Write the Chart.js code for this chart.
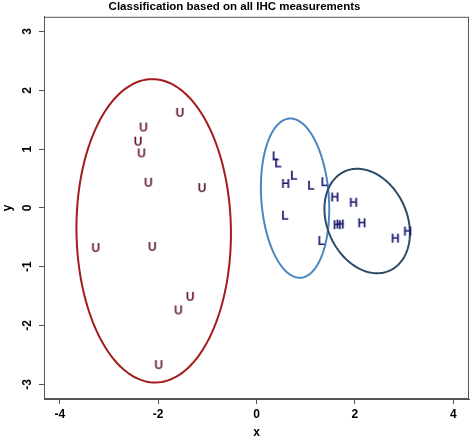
<!DOCTYPE html>
<html>
<head>
<meta charset="utf-8">
<script src="https://cdn.jsdelivr.net/npm/chart.js@4"></script>
<style>
  html, body { margin: 0; padding: 0; background: #fff; }
  #wrap { width: 472px; height: 440px; }
</style>
</head>
<body>
<div id="wrap"><canvas id="ihcChart" width="472" height="440"></canvas></div>
<script>
// group U
const uX = [-1.56, -2.30, -2.41, -2.34, -2.20, -1.11, -3.27, -2.12, -1.35, -1.59, -1.99];
const uY = [1.60, 1.35, 1.11, 0.91, 0.41, 0.32, -0.70, -0.68, -1.53, -1.76, -2.69];
// group L
const lX = [0.39, 0.44, 0.76, 1.11, 1.38, 0.58, 1.32];
const lY = [0.86, 0.74, 0.53, 0.36, 0.42, -0.15, -0.58];
// group H
const hX = [0.59, 1.59, 1.97, 1.64, 1.70, 2.14, 2.82, 3.07];
const hY = [0.39, 0.16, 0.07, -0.31, -0.30, -0.28, -0.54, -0.42];

const xTicks = [-4, -2, 0, 2, 4];
const yTicks = [-3, -2, -1, 0, 1, 2, 3];

// ellipses (U, L, H): centre, semi-axes, angle of the long axis in degrees
const ellipseCx = [-2.09, 0.784, 2.25];
const ellipseCy = [-0.39, 0.166, -0.223];
const ellipseA = [2.58, 1.359, 0.976];
const ellipseB = [1.57, 0.686, 0.769];
const ellipseAngle = [91, 95.35, -47.7];
const ellipseColors = ['#a31b1b', '#4a86c0', '#2c4a6a'];

const FONT = '"Liberation Sans", Arial, sans-serif';
Chart.defaults.font.family = FONT;

// letter used as the point marker
function letterMarker(letter, color) {
  const c = document.createElement('canvas');
  c.width = 16;
  c.height = 16;
  const g = c.getContext('2d');
  g.fillStyle = color;
  g.font = 'bold 12px ' + FONT;
  g.textAlign = 'center';
  g.textBaseline = 'middle';
  g.fillText(letter, 8, 8);
  return c;
}

const toPoints = (xs, ys) => xs.map((v, i) => ({ x: v, y: ys[i] }));

const ellipsePlugin = {
  id: 'ellipses',
  beforeDatasetsDraw(chart) {
    const { ctx, scales: { x, y } } = chart;
    ctx.save();
    ellipseCx.forEach((cx, i) => {
      const t = ellipseAngle[i] * Math.PI / 180;
      ctx.beginPath();
      for (let k = 0; k <= 160; k++) {
        const s = k / 160 * 2 * Math.PI;
        const dx = ellipseA[i] * Math.cos(s) * Math.cos(t) - ellipseB[i] * Math.sin(s) * Math.sin(t);
        const dy = ellipseA[i] * Math.cos(s) * Math.sin(t) + ellipseB[i] * Math.sin(s) * Math.cos(t);
        const px = x.getPixelForValue(cx + dx);
        const py = y.getPixelForValue(ellipseCy[i] + dy);
        if (k === 0) ctx.moveTo(px, py); else ctx.lineTo(px, py);
      }
      ctx.closePath();
      ctx.strokeStyle = ellipseColors[i];
      ctx.lineWidth = 2;
      ctx.stroke();
    });
    // box round the plot
    const a = chart.chartArea;
    ctx.strokeStyle = '#555';
    ctx.lineWidth = 1;
    ctx.strokeRect(a.left + 0.5, a.top + 0.5, a.width - 1, a.height - 1);
    ctx.restore();
  }
};

const tickFont = { family: FONT, size: 12, weight: 'bold' };

new Chart(document.getElementById('ihcChart').getContext('2d'), {
  type: 'scatter',
  data: {
    datasets: [
      { label: 'U', data: toPoints(uX, uY), pointStyle: letterMarker('U', '#641c3c'), pointRadius: 6 },
      { label: 'L', data: toPoints(lX, lY), pointStyle: letterMarker('L', '#18186e'), pointRadius: 6 },
      { label: 'H', data: toPoints(hX, hY), pointStyle: letterMarker('H', '#18186e'), pointRadius: 6 }
    ]
  },
  options: {
    responsive: false,
    animation: false,
    layout: { autoPadding: false, padding: { top: 0, right: 3, left: 0, bottom: 0 } },
    plugins: {
      legend: { display: false },
      tooltip: { enabled: false },
      title: {
        display: true,
        text: 'Classification based on all IHC measurements',
        font: { family: FONT, size: 11.5, weight: 'bold' },
        color: '#000',
        padding: { top: 0, bottom: 3 }
      }
    },
    scales: {
      x: {
        type: 'linear',
        min: -4.32,
        max: 4.32,
        afterBuildTicks: s => { s.ticks = xTicks.map(v => ({ value: v })); },
        afterFit: s => { s.height = 41; s.paddingLeft = 0; s.paddingRight = 0; },
        grid: { drawOnChartArea: false, drawTicks: true, tickLength: 5, color: '#555' },
        border: { color: '#555' },
        ticks: { font: tickFont, color: '#000', padding: 3, maxRotation: 0 },
        title: { display: true, text: 'x', font: tickFont, color: '#000', padding: { top: 0, bottom: 0 } }
      },
      y: {
        type: 'linear',
        min: -3.25,
        max: 3.25,
        afterBuildTicks: s => { s.ticks = yTicks.map(v => ({ value: v })); },
        afterFit: s => { s.width = 44; s.paddingTop = 0; s.paddingBottom = 0; },
        grid: { drawOnChartArea: false, drawTicks: true, tickLength: 5, color: '#555' },
        border: { color: '#555' },
        ticks: { font: tickFont, color: '#000', padding: 6, minRotation: 90, maxRotation: 90, crossAlign: 'center' },
        title: { display: true, text: 'y', font: tickFont, color: '#000', padding: { top: 0, bottom: 0 } }
      }
    }
  },
  plugins: [ellipsePlugin]
});
</script>
</body>
</html>
